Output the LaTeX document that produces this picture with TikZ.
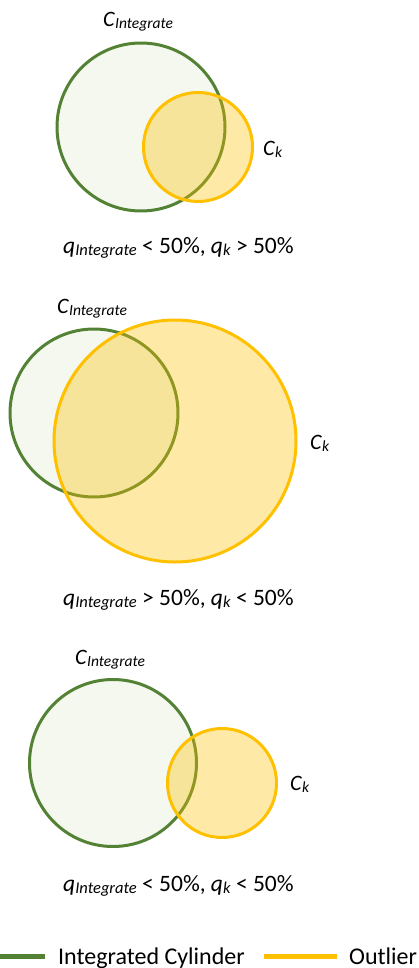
\documentclass[tikz,border=0pt]{standalone}
\usepackage{fontspec}
\setmainfont{Carlito}
\definecolor{gline}{HTML}{548235}
\definecolor{gfill}{HTML}{F4F8EF}
\definecolor{yline}{HTML}{FFC000}
\newcommand{\lbl}[2]{\textit{#1}\raisebox{-2pt}{\fontsize{15.5}{18}\selectfont\textit{#2}}}
\newcommand{\clbl}[2]{\textit{#1}\raisebox{-2pt}{\fontsize{16.5}{19}\selectfont\textit{#2}}}
\tikzset{
  gcirc/.style={circle, draw=gline, fill=gfill, line width=3pt, inner sep=0pt},
  ycirc/.style={circle, draw=yline, fill=yline, fill opacity=0.35, draw opacity=1, line width=3pt, inner sep=0pt},
  txt/.style={anchor=base west, inner sep=0pt, font=\fontsize{22}{26}\selectfont},
  captxt/.style={anchor=base west, inner sep=0pt, font=\fontsize{23.5}{27}\selectfont},
  legtxt/.style={anchor=base west, inner sep=0pt, font=\fontsize{24}{28}\selectfont},
}
\begin{document}
\begin{tikzpicture}[x=1pt,y=-1pt]
\useasboundingbox (0,0) rectangle (418,968);
% diagram 1
\node[gcirc, minimum size=168pt] (g1) at (141,127) {};
\node[ycirc, minimum size=109pt] (y1) at (198,147) {};
\node[txt] (l1a) at (103,27) {\lbl{C}{Integrate}};
\node[txt] (l1b) at (263,156) {\lbl{C}{k}};
\node[captxt] (c1) at (63,253) {\clbl{q}{Integrate} < 50\%, \clbl{q}{k} > 50\%};
% diagram 2
\node[gcirc, minimum size=168pt] (g2) at (94,413) {};
\node[ycirc, minimum size=242pt] (y2) at (175,441) {};
\node[txt] (l2a) at (57,313) {\lbl{C}{Integrate}};
\node[txt] (l2b) at (310,449) {\lbl{C}{k}};
\node[captxt] (c2) at (63,605) {\clbl{q}{Integrate} > 50\%, \clbl{q}{k} < 50\%};
% diagram 3
\node[gcirc, minimum size=167pt] (g3) at (113,763) {};
\node[ycirc, minimum size=109pt] (y3) at (222,783) {};
\node[txt] (l3a) at (75,664) {\lbl{C}{Integrate}};
\node[txt] (l3b) at (290,790) {\lbl{C}{k}};
\node[captxt] (c3) at (63,891) {\clbl{q}{Integrate} < 50\%, \clbl{q}{k} < 50\%};
% legend
\coordinate (lg1) at (0,956);
\coordinate (lg2) at (45,956);
\coordinate (ly1) at (264,956);
\coordinate (ly2) at (337,956);
\draw[gline, line width=5pt] (lg1) -- (lg2);
\draw[yline, line width=5pt] (ly1) -- (ly2);
\node[legtxt] (lt1) at (58,964) {Integrated Cylinder};
\node[legtxt] (lt2) at (349,964) {Outlier};
\end{tikzpicture}
\end{document}
